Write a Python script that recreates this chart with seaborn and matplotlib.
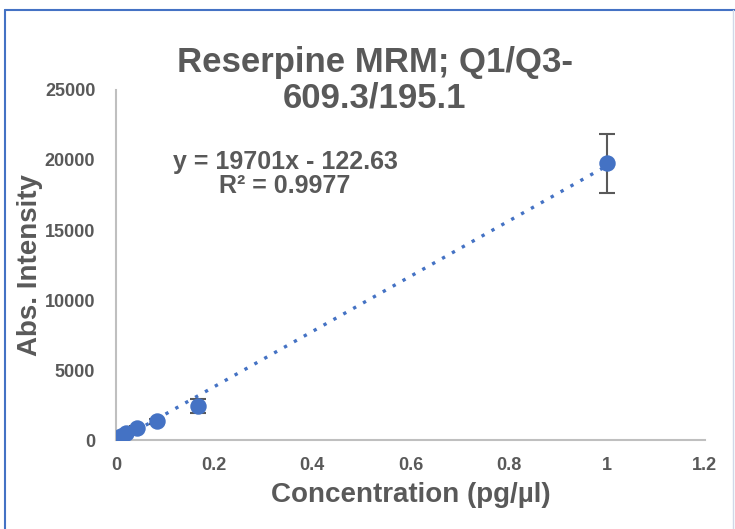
import matplotlib.pyplot as plt
import seaborn as sns
import pandas as pd
from matplotlib.lines import Line2D

# calibration data
conc = [0.0052, 0.0104, 0.0208, 0.0417, 0.0833, 0.1667, 1.0]
intensity = [150, 300, 520, 880, 1330, 2430, 19750]
err = [40, 60, 80, 100, 150, 480, 2100]
slope = 19701
intercept = -122.63
fit_x = [0.0, 1.0]

sns.set_theme(style="white")
plt.rcParams['font.family'] = ['Liberation Sans', 'DejaVu Sans']

df = pd.DataFrame({'conc': conc, 'intensity': intensity, 'err': err})
fit = pd.DataFrame({'x': fit_x, 'y': [slope * v + intercept for v in fit_x]})

grey = '#595959'
blue = '#4472C4'

fig = plt.figure(figsize=(7.35, 5.29), dpi=100)
ax = fig.add_axes([0.158, 0.168, 0.801, 0.662])

sns.lineplot(data=fit, x='x', y='y', ax=ax, color=blue, linestyle=(0, (1, 2.4)),
             linewidth=2.4, zorder=2)
ax.errorbar(df['conc'], df['intensity'], yerr=df['err'], fmt='none',
            ecolor=grey, elinewidth=1.5, capsize=6, capthick=1.5, zorder=3)
sns.scatterplot(data=df, x='conc', y='intensity', ax=ax, color=blue, s=140,
                edgecolor=blue, linewidth=0, zorder=4)

ax.set_xlim(0, 1.2)
ax.set_ylim(0, 25000)
ax.set_xticks([0, 0.2, 0.4, 0.6, 0.8, 1, 1.2])
ax.set_xticklabels(['0', '0.2', '0.4', '0.6', '0.8', '1', '1.2'])
ax.set_yticks(range(0, 25001, 5000))
for lab in ax.get_xticklabels() + ax.get_yticklabels():
    lab.set_fontweight('bold')
    lab.set_color(grey)
    lab.set_fontsize(13)
ax.tick_params(axis='y', length=0, pad=15)
ax.tick_params(axis='x', length=0, pad=12)

for side in ['top', 'right']:
    ax.spines[side].set_visible(False)
for side in ['left', 'bottom']:
    ax.spines[side].set_color('#BFBFBF')
    ax.spines[side].set_linewidth(1.5)

ax.set_xlabel('Concentration (pg/µl)', fontsize=20, fontweight='bold', color=grey, labelpad=6)
ax.set_ylabel('Abs. Intensity', fontsize=20, fontweight='bold', color=grey)
ax.yaxis.set_label_coords(-0.124, 0.5)

fig.text(0.51, 0.848, 'Reserpine MRM; Q1/Q3-\n609.3/195.1', ha='center', va='center',
         fontsize=25, fontweight='bold', color=grey, linespacing=1.1)

ax.text(0.287, 0.76, 'y = 19701x - 122.63\nR² = 0.9977', transform=ax.transAxes,
        ha='center', va='center', fontsize=18, fontweight='bold', color=grey,
        linespacing=1.05)

# outer chart border
fig.add_artist(Line2D([0.007, 0.007], [0.0, 0.981], color=blue, linewidth=1.5, transform=fig.transFigure))
fig.add_artist(Line2D([0.007, 1.0], [0.981, 0.981], color=blue, linewidth=1.5, transform=fig.transFigure))
fig.add_artist(Line2D([0.997, 0.997], [0.0, 0.981], color='#D0D8E8', linewidth=1.0, transform=fig.transFigure))

fig.savefig('out.png', dpi=100)
